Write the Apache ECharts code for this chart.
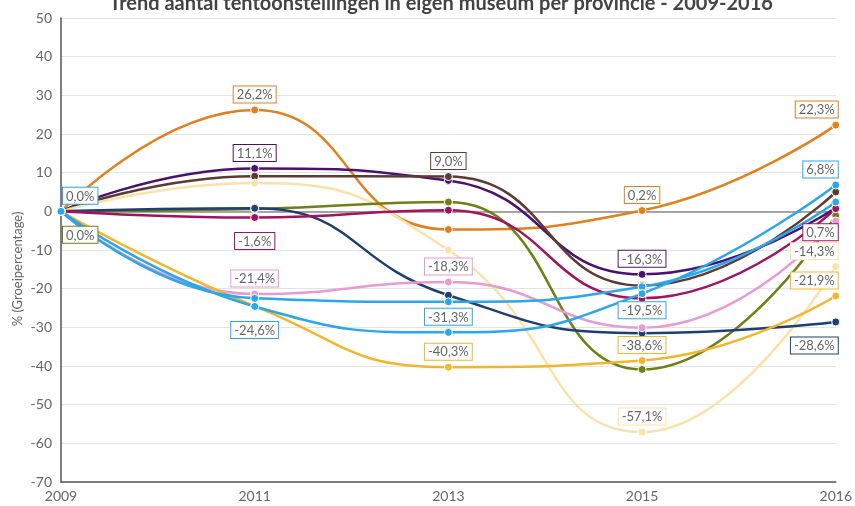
<!DOCTYPE html>
<html>
<head>
<meta charset="utf-8">
<script src="https://cdn.jsdelivr.net/npm/echarts@6/dist/echarts.min.js"></script>
<style>
  html, body { margin: 0; padding: 0; background: #fff; }
  #chart { width: 855px; height: 506px; }
</style>
</head>
<body>
<div id="chart"></div>
<script>
const title = 'Trend aantal tentoonstellingen in eigen museum per provincie - 2009-2016'
const yName = '% (Groeipercentage)'
const years = ['2009', '2011', '2013', '2015', '2016']

const oranje = [0, 26.2, -4.7, 0.2, 22.3]
const paars = [0, 11.1, 8.0, -16.3, 0.9]
const bruin = [0, 9.1, 9.0, -19.2, 5.0]
const lichtgeel = [0, 7.3, -10.0, -57.1, -14.3]
const olijf = [0, 0.6, 2.4, -40.9, -1.1]
const marine = [0, 0.8, -21.7, -31.5, -28.6]
const magenta = [0, -1.6, 0.3, -22.5, 0.7]
const roze = [0, -21.4, -18.3, -30.1, -2.5]
const geel = [0, -24.5, -40.3, -38.6, -21.9]
const blauwA = [0, -22.5, -23.4, -19.5, 2.4]
const blauwB = [0, -24.6, -31.3, -21.3, 6.8]

const seriesData = [oranje, paars, bruin, lichtgeel, olijf, marine, magenta, roze, geel, blauwA, blauwB]
const colors = ['#e2801d', '#4b1171', '#5e3a32', '#fbe2a8', '#6f7f14', '#1d3f73',
  '#a3125f', '#e99ad3', '#f5b52a', '#2aa7ea', '#2aa7ea']

// which points carry a value label: [series, year index, side]
const labelPoints = [
  [10, 0, 'top'], [4, 0, 'bottom'],
  [0, 1, 'top'], [1, 1, 'top'], [6, 1, 'bottom'], [7, 1, 'top'], [10, 1, 'bottom'],
  [2, 2, 'top'], [7, 2, 'top'], [10, 2, 'top'], [8, 2, 'top'],
  [0, 3, 'top'], [1, 3, 'top'], [9, 3, 'bottom'], [8, 3, 'top'], [3, 3, 'top'],
  [0, 4, 'top'], [10, 4, 'top'], [6, 4, 'bottom'], [3, 4, 'top'], [8, 4, 'top'], [5, 4, 'bottom'],
]

const font = 'Lato, "Open Sans", sans-serif'
const fmt = v => v.toFixed(1).replace('.', ',') + '%'

function buildPoints(si) {
  return seriesData[si].map((v, i) => {
    const lp = labelPoints.find(p => p[0] === si && p[1] === i)
    if (!lp) return v
    const label = {
      show: true,
      position: lp[2],
      distance: lp[2] === 'top' ? 3 : 11,
    }
    if (i === 0) { label.align = 'left'; label.offset = [2, 0] }
    if (i === years.length - 1) { label.align = 'right'; label.offset = [2, 0] }
    return { value: v, label }
  })
}

const chart = echarts.init(document.getElementById('chart'))

chart.setOption({
  animation: false,
  color: colors,
  graphic: [
    {
      type: 'text',
      x: 441,
      y: 4,
      style: {
        text: title,
        fill: '#444',
        font: 'bold 20px ' + font,
        textAlign: 'center',
        textVerticalAlign: 'middle',
      },
    },
    {
      type: 'text',
      x: 18,
      y: 269,
      rotation: Math.PI / 2,
      style: {
        text: yName,
        fill: '#666',
        font: '13px ' + font,
        textAlign: 'center',
        textVerticalAlign: 'middle',
      },
    },
  ],
  grid: { left: 61, right: 19, top: 18, bottom: 24 },
  xAxis: [
    {
      type: 'category',
      data: years,
      boundaryGap: false,
      axisLine: { onZero: false, lineStyle: { color: '#555', width: 1.5 } },
      axisTick: { show: false },
      axisLabel: { color: '#666', fontSize: 14, fontFamily: font, margin: 7 },
      splitLine: { show: false },
    },
    {
      // grey reference line at 0
      type: 'category',
      data: years,
      boundaryGap: false,
      position: 'bottom',
      axisLine: { onZero: true, lineStyle: { color: '#8c8c8c', width: 1.5 } },
      axisTick: { show: false },
      axisLabel: { show: false },
    },
  ],
  yAxis: {
    type: 'value',
    min: -70,
    max: 50,
    interval: 10,
    axisLine: { show: true, lineStyle: { color: '#555', width: 1.5 } },
    axisTick: { show: false },
    axisLabel: { color: '#666', fontSize: 14, fontFamily: font, margin: 9 },
    splitLine: { lineStyle: { color: '#e3e3e3', width: 1 } },
  },
  series: seriesData.map((d, si) => ({
    name: 'Provincie ' + (si + 1),
    type: 'line',
    data: buildPoints(si),
    smooth: 0.5,
    symbol: 'circle',
    symbolSize: 8,
    lineStyle: { width: 2.5 },
    itemStyle: { borderColor: '#fff', borderWidth: 1 },
    label: {
      show: false,
      formatter: p => fmt(p.value),
      color: '#666',
      fontSize: 13,
      fontFamily: font,
      backgroundColor: '#fff',
      borderColor: colors[si],
      borderWidth: 1,
      padding: [2, 3, 1, 3],
    },
  })),
})
</script>
</body>
</html>
